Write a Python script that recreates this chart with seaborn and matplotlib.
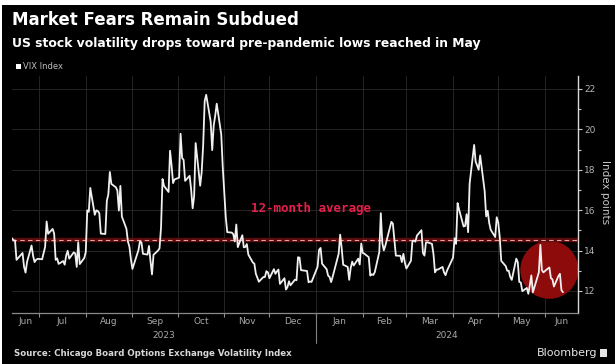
import matplotlib
matplotlib.use("Agg")
import matplotlib.pyplot as plt
import matplotlib.dates as mdates
import matplotlib.transforms as mtransforms
from matplotlib.lines import Line2D
from matplotlib.patches import Rectangle
import seaborn as sns
import pandas as pd

# ---------------- data: VIX Index daily close (day, value) ----------------
jun_2023 = [(13, 14.61), (14, 14.50), (15, 14.50), (16, 13.54), (20, 13.88), (21, 13.20),
            (22, 12.91), (23, 13.44), (26, 14.25), (27, 13.74), (28, 13.43), (29, 13.54), (30, 13.59)]
jul_2023 = [(3, 13.57), (5, 14.18), (6, 15.44), (7, 14.83), (10, 15.07), (11, 14.84), (12, 13.54),
            (13, 13.61), (14, 13.34), (17, 13.48), (18, 13.30), (19, 13.76), (20, 13.99), (21, 13.60),
            (24, 13.91), (25, 13.86), (26, 13.19), (27, 14.41), (28, 13.33), (31, 13.63)]
aug_2023 = [(1, 13.93), (2, 15.99), (3, 15.92), (4, 17.10), (7, 15.77), (8, 15.99), (9, 15.96),
            (10, 15.85), (11, 14.84), (14, 14.82), (15, 16.46), (16, 16.78), (17, 17.89), (18, 17.30),
            (21, 17.13), (22, 16.97), (23, 15.98), (24, 17.20), (25, 15.68), (28, 15.08), (29, 14.45),
            (30, 14.19), (31, 13.57)]
sep_2023 = [(1, 13.09), (5, 14.02), (6, 14.45), (7, 14.40), (8, 13.84), (11, 13.80), (12, 14.23),
            (13, 13.48), (14, 12.82), (15, 13.79), (18, 14.00), (19, 14.11), (20, 15.14), (21, 17.54),
            (22, 17.20), (25, 16.90), (26, 18.94), (27, 18.22), (28, 17.34), (29, 17.52)]
oct_2023 = [(2, 17.61), (3, 19.78), (4, 18.58), (5, 18.49), (6, 17.45), (9, 17.70), (10, 17.03),
            (11, 16.09), (12, 16.69), (13, 19.32), (16, 17.21), (17, 17.88), (18, 19.22), (19, 21.40),
            (20, 21.71), (23, 20.37), (24, 18.97), (25, 20.19), (26, 20.68), (27, 21.27), (30, 19.75),
            (31, 18.14)]
nov_2023 = [(1, 16.87), (2, 15.66), (3, 14.91), (6, 14.89), (7, 14.81), (8, 14.45), (9, 15.29),
            (10, 14.17), (13, 14.76), (14, 14.16), (15, 14.18), (16, 14.32), (17, 13.80), (20, 13.41),
            (21, 13.35), (22, 12.85), (24, 12.46), (27, 12.69), (28, 12.69), (29, 12.98), (30, 12.92)]
dec_2023 = [(1, 12.63), (4, 13.08), (5, 12.85), (6, 12.97), (7, 13.06), (8, 12.35), (11, 12.63),
            (12, 12.07), (13, 12.19), (14, 12.48), (15, 12.28), (18, 12.56), (19, 12.53), (20, 13.67),
            (21, 13.65), (22, 13.03), (26, 12.99), (27, 12.43), (28, 12.47), (29, 12.45)]
jan_2024 = [(2, 13.20), (3, 14.04), (4, 14.13), (5, 13.35), (8, 13.08), (9, 12.76), (10, 12.69),
            (11, 12.44), (12, 12.70), (16, 13.84), (17, 14.79), (18, 14.13), (19, 13.30), (22, 13.19),
            (23, 12.55), (24, 13.14), (25, 13.45), (26, 13.26), (29, 13.60), (30, 13.31), (31, 14.35)]
feb_2024 = [(1, 13.88), (2, 13.85), (5, 13.67), (6, 12.76), (7, 12.83), (8, 12.79), (9, 12.93),
            (12, 13.93), (13, 15.85), (14, 14.38), (15, 14.01), (16, 14.24), (20, 15.42), (21, 15.34),
            (22, 14.54), (23, 13.75), (26, 13.74), (27, 13.43), (28, 13.84), (29, 13.40)]
mar_2024 = [(1, 13.11), (4, 13.49), (5, 14.46), (6, 14.50), (7, 14.44), (8, 14.74), (11, 15.01),
            (12, 13.88), (13, 13.75), (14, 14.40), (15, 14.41), (18, 14.33), (19, 13.82), (20, 12.92),
            (21, 13.06), (22, 13.06), (25, 13.19), (26, 12.92), (27, 12.78), (28, 13.01)]
apr_2024 = [(1, 13.65), (2, 14.61), (3, 14.33), (4, 16.35), (5, 16.03), (8, 15.19), (9, 15.22),
            (10, 15.80), (11, 14.91), (12, 17.31), (15, 19.23), (16, 18.40), (17, 18.21), (18, 18.00),
            (19, 18.71), (22, 16.94), (23, 15.69), (24, 15.97), (25, 15.37), (26, 15.03), (29, 14.67),
            (30, 15.65)]
may_2024 = [(1, 15.39), (2, 14.68), (3, 13.49), (6, 13.23), (7, 13.00), (8, 13.00), (9, 12.69),
            (10, 12.55), (13, 13.60), (14, 13.42), (15, 12.45), (16, 12.42), (17, 11.99), (20, 12.15),
            (21, 11.86), (22, 12.29), (23, 12.77), (24, 11.93), (28, 12.92), (29, 14.28), (30, 13.03),
            (31, 12.92)]
jun_2024 = [(3, 13.11), (4, 13.16), (5, 12.63), (6, 12.58), (7, 12.22), (10, 12.74), (11, 12.85),
            (12, 12.04), (13, 11.94)]

series_by_month = [("2023-06", jun_2023), ("2023-07", jul_2023), ("2023-08", aug_2023),
                   ("2023-09", sep_2023), ("2023-10", oct_2023), ("2023-11", nov_2023),
                   ("2023-12", dec_2023), ("2024-01", jan_2024), ("2024-02", feb_2024),
                   ("2024-03", mar_2024), ("2024-04", apr_2024), ("2024-05", may_2024),
                   ("2024-06", jun_2024)]

average_12m = 14.5
highlight_date = "2024-06-04"
highlight_value = 13.05

month_names = ["Jun", "Jul", "Aug", "Sep", "Oct", "Nov", "Dec", "Jan", "Feb", "Mar", "Apr", "May", "Jun"]
month_starts = ["2023-06-01", "2023-07-01", "2023-08-01", "2023-09-01", "2023-10-01", "2023-11-01",
                "2023-12-01", "2024-01-01", "2024-02-01", "2024-03-01", "2024-04-01", "2024-05-01",
                "2024-06-01", "2024-07-01"]
year_labels = ["2023", "2024"]
year_starts = ["2023-01-01", "2024-01-01", "2025-01-01"]
y_ticks = [12, 14, 16, 18, 20, 22]
y_minor = [13, 15, 17, 19, 21]
x_start, x_end = "2023-06-13", "2024-06-23"

title = "Market Fears Remain Subdued"
subtitle = "US stock volatility drops toward pre-pandemic lows reached in May"
source = "Source: Chicago Board Options Exchange Volatility Index"

rows = []
for ym, vals in series_by_month:
    yy, mm = map(int, ym.split("-"))
    for d, v in vals:
        rows.append({"date": pd.Timestamp(yy, mm, d), "vix": v})
df = pd.DataFrame(rows)

# ---------------- figure ----------------
sns.set_theme(style="dark")
plt.rcParams["font.family"] = ["DejaVu Sans"]

W, H = 615, 364
fig = plt.figure(figsize=(W / 100, H / 100), dpi=100, facecolor="black")
ax = fig.add_axes([12 / W, 1 - 313 / H, 566 / W, 237 / H])
ax.set_facecolor("black")

# highlight circle
ax.scatter([pd.Timestamp(highlight_date)], [highlight_value], s=1750, color="#8e0b0b",
           edgecolors="none", zorder=1)

# average line
ax.axhline(average_12m, color="#5a0b0b", lw=3.2, zorder=2)
ax.axhline(average_12m, color="#e6a3a3", lw=0.8, dashes=(4, 3), zorder=2.5)

sns.lineplot(data=df, x="date", y="vix", ax=ax, color="#f0f0f0", linewidth=1.3, zorder=3)

x0, x1 = pd.Timestamp(x_start), pd.Timestamp(x_end)
ax.set_xlim(x0, x1)
ax.set_ylim(10.91, 22.64)
ax.set_xlabel("")
ax.set_ylabel("")

# grid
ax.set_xticks([pd.Timestamp(m) for m in month_starts[1:-1]])
ax.xaxis.set_major_formatter(plt.NullFormatter())
ax.grid(True, axis="x", color="#2b2b2b", lw=0.6)
ax.yaxis.tick_right()
ax.set_yticks(y_ticks)
ax.set_yticks(y_minor, minor=True)
ax.set_yticklabels([str(t) for t in y_ticks])
ax.grid(True, axis="y", which="major", color="#2b2b2b", lw=0.6)
ax.tick_params(axis="y", which="both", direction="out", color="#c8c8c8", width=0.8,
               labelcolor="#b4b4b4", labelsize=6.5, pad=1.5, right=True, left=False)
ax.tick_params(axis="y", which="major", length=3)
ax.tick_params(axis="y", which="minor", length=2)
ax.tick_params(axis="x", which="major", direction="out", length=3, color="#909090", width=0.8,
               bottom=True)

for s in ["top", "left"]:
    ax.spines[s].set_visible(False)
ax.spines["right"].set_color("#d8d8d8")
ax.spines["right"].set_linewidth(1.0)
ax.spines["bottom"].set_color("#8a8a8a")
ax.spines["bottom"].set_linewidth(0.9)

trans = mtransforms.blended_transform_factory(ax.transData, fig.transFigure)
xn0, xn1 = mdates.date2num(x0), mdates.date2num(x1)
for i, name in enumerate(month_names):
    a = max(mdates.date2num(pd.Timestamp(month_starts[i])), xn0)
    b = min(mdates.date2num(pd.Timestamp(month_starts[i + 1])), xn1)
    fig.text((a + b) / 2, 1 - 322 / H, name, transform=trans, ha="center", va="center",
             fontsize=6.5, color="#a8a8a8")
for i, name in enumerate(year_labels):
    a = max(mdates.date2num(pd.Timestamp(year_starts[i])), xn0)
    b = min(mdates.date2num(pd.Timestamp(year_starts[i + 1])), xn1)
    fig.text((a + b) / 2, 1 - 335 / H, name, transform=trans, ha="center", va="center",
             fontsize=6.5, color="#a8a8a8")
sep_x = mdates.date2num(pd.Timestamp(year_starts[1]))
fig.add_artist(Line2D([sep_x, sep_x], [1 - 313 / H, 1 - 343 / H], transform=trans,
                      color="#808080", lw=0.8))

# annotation
ax.text(pd.Timestamp("2023-11-19"), 16.1, "12-month average", color="#e2204a",
        fontsize=9, fontweight="bold", family="DejaVu Sans Mono", va="center", ha="left", zorder=4)

# texts
fig.text(605 / W, 1 - 192 / H, "Index points", rotation=270, ha="center", va="center",
         fontsize=7.5, color="#c8c8c8")
fig.text(12 / W, 1 - 20 / H, title, fontsize=12, fontweight="bold", color="white",
         va="center", ha="left")
fig.text(12 / W, 1 - 44 / H, subtitle, fontsize=8.9, fontweight="bold", color="white",
         va="center", ha="left")
fig.patches.append(Rectangle((16 / W, 1 - 69 / H), 5 / W, 5 / H, transform=fig.transFigure,
                             facecolor="white", edgecolor="none"))
fig.text(23 / W, 1 - 66.5 / H, "VIX Index", fontsize=6, color="#bdbdbd", va="center", ha="left")
fig.text(14 / W, 1 - 354 / H, source, fontsize=6.2, fontweight="bold", color="#d8d8d8",
         va="center", ha="left")
fig.text(597 / W, 1 - 353 / H, "Bloomberg", fontsize=8, color="#e6e6e6", va="center", ha="right")
fig.patches.append(Rectangle((600 / W, 1 - 357 / H), 7 / W, 8 / H, transform=fig.transFigure,
                             facecolor="#e6e6e6", edgecolor="none"))

# white screenshot margin (top / left)
fig.patches.append(Rectangle((0, 1 - 5 / H), 1, 5 / H, transform=fig.transFigure,
                             facecolor="white", edgecolor="none", zorder=10))
fig.patches.append(Rectangle((0, 0), 2 / W, 1, transform=fig.transFigure,
                             facecolor="white", edgecolor="none", zorder=10))

fig.savefig("out.png", dpi=100, facecolor="black")
